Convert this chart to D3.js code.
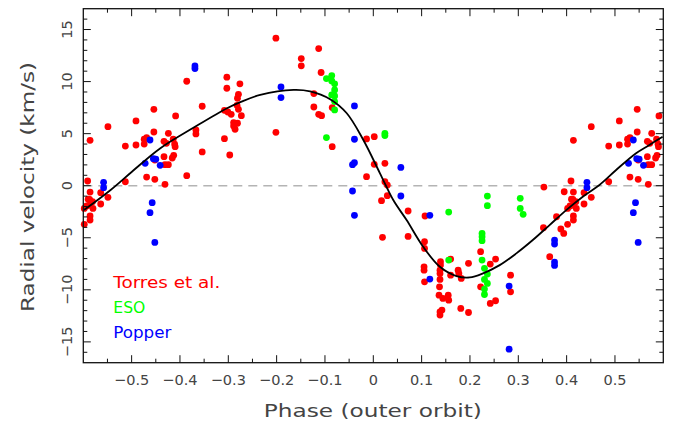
<!DOCTYPE html>
<html><head><meta charset="utf-8">
<script src="https://cdn.jsdelivr.net/npm/d3@7"></script>
<style>body{margin:0;background:#fff} svg{display:block}</style>
</head><body><svg id="c" width="685" height="426"></svg>
<script>
// Phase-folded radial velocities (phase in [-0.5, 0.5), km/s)
const torres = [
 [-0.491,3.91],[-0.491,6.22],[-0.474,4.46],[-0.474,4.00],[-0.469,4.62],[-0.469,0.83],
 [-0.454,7.34],[-0.454,5.16],[-0.452,0.61],[-0.452,2.47],[-0.433,4.26],[-0.428,4.07],
 [-0.424,5.03],[-0.433,2.79],[-0.431,2.02],[-0.424,2.02],[-0.431,0.13],[-0.414,4.46],
 [-0.411,4.00],[-0.409,6.70],[-0.410,3.75],[-0.413,2.92],[-0.416,2.66],[-0.386,10.03],
 [-0.386,0.96],[-0.367,5.35],[-0.367,4.97],[-0.354,7.63],[-0.354,3.24],[-0.308,4.52],
 [-0.303,10.42],[-0.303,9.36],[-0.297,2.95],[-0.308,7.24],[-0.301,7.08],[-0.294,6.86],
 [-0.289,6.06],[-0.289,5.74],[-0.286,5.42],[-0.281,6.00],[-0.281,8.40],[-0.279,7.34],
 [-0.276,9.78],[-0.279,8.78],[-0.273,6.73],[-0.282,7.72],
 [-0.2015,14.17],[-0.2015,5.13],[-0.149,12.21],[-0.149,11.51],[-0.113,13.17],[-0.108,10.87],
 [-0.123,8.85],[-0.123,7.56],[-0.113,6.86],[-0.107,6.73],[-0.085,7.50],[-0.085,3.75],
 [-0.014,4.49],[0.002,4.71],[0.002,2.05],[0.024,2.15],[-0.014,0.87],[0.024,0.38],[0.029,0.06],
 [0.017,-1.44],[0.029,-0.96],[0.019,-4.96],[0.072,-2.43],[0.072,-4.87],[0.107,-2.91],
 [0.106,-5.38],[0.106,-6.02],[0.105,-7.79],[0.105,-8.11],[0.106,-9.23],[0.139,-7.30],
 [0.139,-7.62],[0.138,-8.11],[0.138,-8.43],[0.138,-9.00],[0.137,-9.71],[0.136,-10.51],
 [0.144,-10.83],[0.138,-12.11],[0.142,-11.95],[0.138,-12.43],[0.155,-10.51],[0.156,-10.99],
 [0.160,-7.05],[0.160,-8.59],
 [0.1755,-8.11],[0.177,-8.43],[0.182,-8.91],[0.181,-11.79],[0.197,-12.18],[0.197,-7.46],
 [0.222,-6.34],[0.222,-9.71],[0.242,-7.53],[0.253,-7.05],[0.242,-11.31],[0.253,-11.05],
 [0.284,-8.59],[0.284,-10.19],[0.352,-4.04],[0.365,-6.82],[0.379,-2.98],[0.388,-4.16],
 [0.394,-4.58],[0.402,-3.71],[0.402,-2.18],[0.407,-1.95],[0.413,-1.31],[0.413,-1.86],
 [0.414,-2.91],[0.414,-3.30],[0.420,-2.18],[0.419,-1.54],[0.436,-1.76],
 [0.353,-0.13],[0.409,0.45],[0.395,-0.58],[0.414,-0.61],[0.414,4.36],[0.436,-0.67],
 [0.451,5.67],[0.451,-1.12],[0.410,-1.30],[0.487,3.81],[0.487,0.38]
];
const eso = [
 [-0.097,10.29],[-0.086,10.58],[-0.086,10.06],[-0.080,9.78],[-0.080,9.20],[-0.086,8.72],
 [-0.080,8.62],[-0.080,8.08],[-0.080,7.28],[-0.097,4.62],[0.024,5.03],[0.024,4.81],
 [0.156,-2.53],[0.156,-7.14],[0.236,-1.00],[0.236,-1.92],[0.225,-4.58],[0.225,-4.90],
 [0.225,-5.28],[0.225,-7.14],[0.230,-7.94],[0.236,-8.49],[0.230,-9.00],[0.236,-9.39],
 [0.230,-9.93],[0.230,-10.45],[0.304,-1.21],[0.304,-2.18],[0.310,-2.75]
];
const popper = [
 [-0.462,4.39],[-0.472,2.15],[-0.455,2.60],[-0.450,2.55],[-0.441,1.96],[-0.369,11.25],[-0.369,11.5],
 [-0.4575,-1.63],[-0.462,-2.59],[-0.452,-5.45],[-0.191,9.49],[-0.191,8.46],[-0.039,7.66],
 [-0.039,4.46],[-0.043,2.02],[-0.039,2.21],[0.057,1.76],[-0.043,-0.51],[0.057,-0.99],
 [-0.039,-2.85],[0.117,-2.85],[0.117,-8.97],[0.281,-9.64],[0.281,-15.70],[0.375,-5.22],
 [0.375,-5.60],[0.375,-7.34],[0.375,-7.66],[0.442,0.32],[0.442,-0.19]
];
// Orbit model curve
const modelCurve = [
 [-0.5986,-2.34],[-0.5435,-0.41],[-0.500,1.32],[-0.4405,3.60],[-0.3715,5.58],[-0.3026,7.44],
 [-0.2751,8.02],[-0.234,8.72],[-0.165,9.20],[-0.1307,9.06],[-0.0894,8.31],[-0.0549,6.96],
 [-0.0206,4.39],[0.0138,1.19],[0.0413,-1.38],[0.0689,-3.30],[0.1032,-5.87],[0.1377,-7.79],
 [0.1721,-8.68],[0.1996,-8.81],[0.2270,-8.42],[0.2615,-7.63],[0.296,-6.50],[0.330,-5.22],
 [0.3647,-3.78],[0.3992,-2.34],[0.4334,-1.06],[0.4679,0.07],[0.5024,1.51],[0.5437,3.12],
 [0.5712,3.91],[0.5986,4.71]
];
const seriesNames = ["Torres et al.", "ESO", "Popper"];
const seriesColors = ["#ff0000", "#00ff00", "#0000ff"];
const xMajorTicks = [-0.5,-0.4,-0.3,-0.2,-0.1,0,0.1,0.2,0.3,0.4,0.5];
const yMajorTicks = [-15,-10,-5,0,5,10,15];
const xLabel = "Phase (outer orbit)";
const yLabel = "Radial velocity (km/s)";

const svg = d3.select("#c");
const L = 83.3, R = 663.3, T = 8.7, B = 362.7;
const x = d3.scaleLinear().domain([-0.6, 0.6]).range([L, R]);
const y = d3.scaleLinear().domain([-17, 17]).range([B, T]);
const txtCol = "#444";
const font = "DejaVu Sans, sans-serif";

svg.append("clipPath").attr("id","clip").append("rect")
  .attr("x", L).attr("y", T).attr("width", R-L).attr("height", B-T);

// zero line
svg.append("line").attr("x1", L).attr("x2", R).attr("y1", y(0)).attr("y2", y(0))
  .attr("stroke", "#b4b4b4").attr("stroke-width", 1.6).attr("stroke-dasharray", "9,6");

// points: folded copies within the window
const series = [torres, eso, popper];
series.forEach((data, i) => {
  const pts = [];
  data.forEach(d => [-1, 0, 1].forEach(k => {
    const p = d[0] + k;
    if (p >= -0.6 && p <= 0.6) pts.push([p, d[1]]);
  }));
  svg.append("g").selectAll("circle").data(pts).join("circle")
    .attr("cx", d => x(d[0])).attr("cy", d => y(d[1])).attr("r", 3.4)
    .attr("fill", seriesColors[i]);
});

// model curve
svg.append("path").datum(modelCurve)
  .attr("clip-path", "url(#clip)")
  .attr("d", d3.line().x(d => x(d[0])).y(d => y(d[1])).curve(d3.curveCatmullRom.alpha(0.5)))
  .attr("fill", "none").attr("stroke", "#000").attr("stroke-width", 1.8);

// frame
svg.append("rect").attr("x", L).attr("y", T).attr("width", R-L).attr("height", B-T)
  .attr("fill", "none").attr("stroke", "#111").attr("stroke-width", 1.3);

// ticks (inward on all four sides)
const majLen = 7.5, minLen = 4;
const xMinor = d3.range(-0.55, 0.6, 0.1);
const yMinor = d3.range(-16, 17, 1).filter(v => v % 5 !== 0);
const tickG = svg.append("g").attr("stroke", "#111").attr("stroke-width", 1);
const addX = (vals, len) => vals.forEach(v => {
  tickG.append("line").attr("x1", x(v)).attr("x2", x(v)).attr("y1", B).attr("y2", B - len);
  tickG.append("line").attr("x1", x(v)).attr("x2", x(v)).attr("y1", T).attr("y2", T + len);
});
const addY = (vals, len) => vals.forEach(v => {
  tickG.append("line").attr("y1", y(v)).attr("y2", y(v)).attr("x1", L).attr("x2", L + len);
  tickG.append("line").attr("y1", y(v)).attr("y2", y(v)).attr("x1", R).attr("x2", R - len);
});
addX(xMajorTicks, majLen); addX(xMinor, minLen);
addY(yMajorTicks, majLen); addY(yMinor, minLen);

// tick labels
const fmtX = v => v === 0 ? "0" : d3.format(".1f")(v);
const fmtY = v => d3.format("d")(v);
svg.append("g").selectAll("text").data(xMajorTicks).join("text")
  .attr("x", d => x(d)).attr("y", 385).attr("text-anchor", "middle")
  .attr("font-family", font).attr("font-size", 14.5).attr("fill", txtCol).text(fmtX);
svg.append("g").selectAll("text").data(yMajorTicks).join("text")
  .attr("transform", d => `translate(72,${y(d)}) rotate(-90)`).attr("text-anchor", "middle")
  .attr("font-family", font).attr("font-size", 14.5).attr("fill", txtCol).text(fmtY);

// axis titles
svg.append("text").attr("x", (L+R)/2 - 0.5).attr("y", 416.5).attr("text-anchor", "middle")
  .attr("font-family", font).attr("font-size", 18.5).attr("fill", txtCol)
  .attr("textLength", 218).attr("lengthAdjust", "spacingAndGlyphs").text(xLabel);
svg.append("text").attr("transform", `translate(33.5,187) rotate(-90)`).attr("text-anchor", "middle")
  .attr("font-family", font).attr("font-size", 18.5).attr("fill", txtCol)
  .attr("textLength", 250).attr("lengthAdjust", "spacingAndGlyphs").text(yLabel);

// legend
const legLen = [107, 32, 58];
seriesNames.forEach((n, i) => {
  svg.append("text").attr("x", 113.3).attr("y", 288.3 + i * 24.8)
    .attr("font-family", font).attr("font-size", 16).attr("fill", seriesColors[i])
    .attr("textLength", legLen[i]).attr("lengthAdjust", "spacingAndGlyphs").text(n);
});
</script>
</body></html>
